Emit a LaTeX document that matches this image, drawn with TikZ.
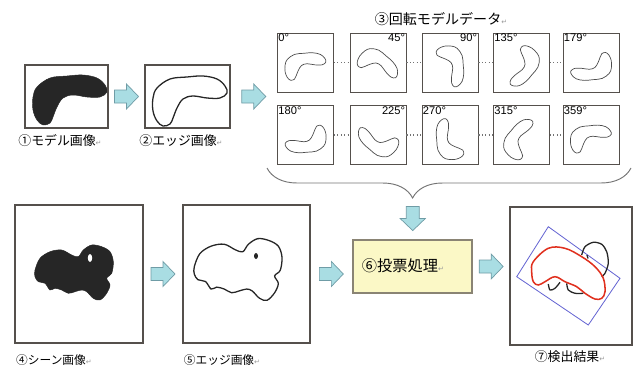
\documentclass[tikz,border=0pt]{standalone}
\usepackage{fontspec}
\setmainfont{Noto Sans CJK JP}
\newfontfamily\numfont{Liberation Sans}
\newfontfamily\symfont{DejaVu Sans}
\usetikzlibrary{calc,decorations.pathreplacing}

\definecolor{boxline}{HTML}{55504C}
\definecolor{arrowcyan}{HTML}{A9DDE3}
\definecolor{arrowedge}{HTML}{6F9CA6}
\definecolor{votefill}{HTML}{FBF8C6}
\definecolor{voteline}{HTML}{8A8474}
\definecolor{fitblue}{HTML}{6464D2}
\definecolor{hitred}{HTML}{E0301E}

% paragraph mark after each caption
\newcommand{\retmark}{{\symfont\color{black!40}\fontsize{6}{6}\selectfont ↵}}

\tikzset{
    % kidney-shaped model outline, centred on the pic origin
    pics/model/.style={code={
        \path[pic actions] plot[smooth cycle, tension=0.6] coordinates {
            (-33,-13) (-20,-22) (-3,-24) (13,-25) (27,-22) (35,-15) (37,-8)
            (30,-3) (17,-3) (3,-5) (-7,-2) (-13,7) (-17,17) (-20,23)
            (-27,25) (-33,20) (-37,10) (-37,-3)};
    }},
    % scene blob
    pics/scene/.style={code={
        \path[pic actions] plot[smooth cycle, tension=0.55] coordinates {
            (-39,-3) (-34,-14.7) (-24,-21.3) (-12.3,-23) (-2.3,-18) (4.3,-16.3)
            (9.3,-23) (17.7,-28) (27.7,-26.3) (36,-21.3) (39.3,-11.3) (37.7,0.3)
            (32.7,5.3) (36,12) (32.7,20.3) (26,27) (19.3,25.3) (12.7,18.7)
            (7.7,17) (1,18.7) (-5.7,20.3) (-12.3,17) (-19,15.3) (-24,17)
            (-29,10.3) (-35.7,8.7) (-39,3.7)};
    }},
    % fat cyan arrow pointing along +x
    pics/blockarrow/.style={code={
        \path[draw=arrowedge, fill=arrowcyan, line width=0.6pt]
            (-12,-6.5) -- (0,-6.5) -- (0,-12.5) -- (12,0) -- (0,12.5)
            -- (0,6.5) -- (-12,6.5) -- cycle;
    }},
}

\begin{document}
\begin{tikzpicture}[x=0.03cm, y=-0.03cm,
        imgbox/.style={draw=boxline, line width=0.9pt, inner sep=0pt},
        rotbox/.style={draw=boxline, line width=0.8pt, inner sep=0pt,
            minimum width=1.68cm, minimum height=1.77cm},
        caption/.style={inner sep=0pt},
        anglelabel/.style={inner sep=1pt, font=\numfont\fontsize{9.5}{11}\selectfont},
        linkdots/.style={draw=black!55, dotted, line width=0.9pt},
        edgeline/.style={draw=black!85, line width=1.1pt}]

    \useasboundingbox (0,0) rectangle (633,365);

    % --- model image and its edges
    \node[imgbox, minimum width=2.49cm, minimum height=1.89cm] (model) at (66.5,96.5) {};
    \pic[draw=black!85, fill=black!85] at (70,100) {model};
    \node[caption, font=\fontsize{11}{13}\selectfont] (capmodel) at (60,141) {①モデル画像\retmark};

    \node[imgbox, minimum width=2.55cm, minimum height=1.89cm] (medge) at (187.5,96.5) {};
    \pic[edgeline] at (190,101) {model};
    \node[caption, font=\fontsize{11}{13}\selectfont] (capmedge) at (181,141) {②エッジ画像\retmark};

    % --- rotated model table
    \node[caption, font=\fontsize{12}{14}\selectfont] (caprot) at (441,19) {③回転モデルデータ\retmark};
    \foreach \a/\cx/\cy/\pos in {0/305.5/62.5/north west, 45/378/62.5/north east,
            90/450/62.5/north east, 135/521.5/62.5/north west, 179/591/62.5/north west,
            180/305.5/135/north west, 225/378/135/north east, 270/450/135/north west,
            315/521.5/135/north west, 359/591/135/north west} {
        \node[rotbox] (r\a) at (\cx,\cy) {};
        \pic[draw=black!70, line width=0.6pt, rotate=-\a, scale=0.55] at ($(r\a.center)+(0,4)$) {model};
        \node[anglelabel, anchor=\pos] at (r\a.\pos) {\a°};
    }
    \foreach \a/\b in {0/45, 45/90, 90/135, 135/179, 180/225, 225/270, 270/315, 315/359}
        \draw[linkdots] (r\a) -- (r\b);

    \draw[black!55, line width=0.8pt, decorate,
        decoration={brace, mirror, amplitude=0.9cm, aspect=0.4}] (267,168) -- (631,168);
    \coordinate (tip) at (413,198);

    % --- scene image and its edges
    \node[imgbox, minimum width=3.84cm, minimum height=4.14cm] (scene) at (79,274) {};
    \pic[draw=black!85, fill=black!85] at (74,273) {scene};
    \fill[white] (90,258) ellipse (2.2 and 4);
    \node[caption, font=\fontsize{10}{12}\selectfont] (capscene) at (54,360) {④シーン画像\retmark};

    \node[imgbox, minimum width=3.81cm, minimum height=4.14cm] (sedge) at (246.5,274) {};
    \pic[edgeline, scale=1.12] at (238,270) {scene};
    \fill[black!85] (256,256) ellipse (2 and 3);
    \node[caption, font=\fontsize{10}{12}\selectfont] (capsedge) at (222,360) {⑤エッジ画像\retmark};

    % --- voting
    \node[draw=voteline, fill=votefill, line width=1.4pt, minimum width=3.57cm,
        minimum height=1.59cm] (vote) at (412.5,266.5) {};
    \node[caption, font=\fontsize{13}{15}\selectfont] (votetext) at (403,266) {⑥投票処理\retmark};

    % --- detection result
    \node[imgbox, minimum width=3.66cm, minimum height=4.14cm] (result) at (571,276) {};
    \draw[fitblue, line width=0.7pt] (548.3,226.7) -- (620,278.3) -- (588.3,325) -- (516.7,276.7) -- cycle;
    \draw[edgeline] plot[smooth] coordinates {(581.7,255) (585,246.7) (593.3,242.3)
        (601.7,244.3) (606.7,251.7) (608.3,263.3) (605,273.3) (601.7,276.7)};
    \draw[edgeline] (587,255) -- (588,258.5);
    \draw[edgeline] plot[smooth] coordinates {(548.3,284) (550,290) (555,288.3) (560,282.3)};
    \draw[edgeline] plot[smooth] coordinates {(566.7,283.3) (568.3,290) (575,293.3) (583.3,293.3)};
    \draw[hitred, line width=1.3pt] plot[smooth cycle, tension=0.6] coordinates {
        (533.3,261.7) (548.3,248.3) (565,248.3) (581.7,256.7) (595,266.7)
        (603.3,278.3) (605,291.7) (601.7,298.3) (595,299) (585,293.3)
        (576.7,286.7) (565,281.7) (555,276.7) (545,281.7) (538.3,285)
        (533.3,281.7) (531.7,271.7)};
    \node[caption, font=\fontsize{11}{13}\selectfont] (capresult) at (570,357) {⑦検出結果\retmark};

    % --- flow arrows
    \pic at ($(model.east)!0.5!(medge.west)$) {blockarrow};
    \pic at ($(medge.east)!0.5!(medge.east -| r0.west)$) {blockarrow};
    \pic at ($(scene.east)!0.5!(sedge.west)$) {blockarrow};
    \pic at ($(sedge.east)!0.5!(sedge.east -| vote.west)$) {blockarrow};
    \pic at ($(vote.east)!0.5!(vote.east -| result.west)$) {blockarrow};
    \pic[rotate=-90] at ($(tip)!0.5!(vote.north)$) {blockarrow};
\end{tikzpicture}
\end{document}
